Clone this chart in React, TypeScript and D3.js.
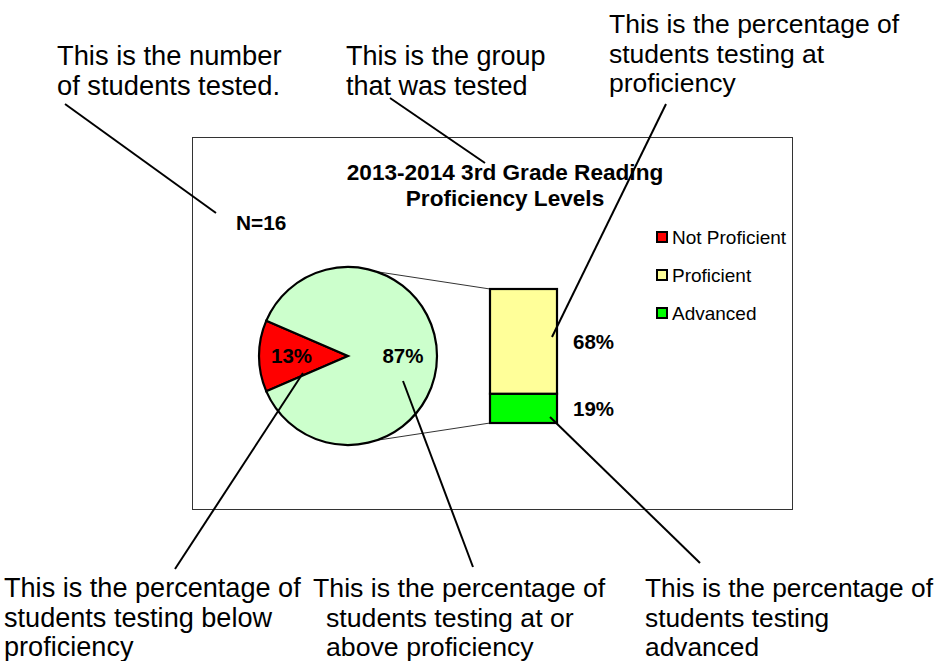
import React from "react";
import * as d3 from "d3";

// chart values (percent of students tested)
const pieLabels = ["Not Proficient", "Proficient or Advanced"];
const pieValues = [13, 87];
const barLabels = ["Advanced", "Proficient"]; // bottom to top
const barValues = [19, 68];
const legendLabels = ["Not Proficient", "Proficient", "Advanced"];
const legendColors = ["#FF0000", "#FFFF99", "#00FF00"];
const pieColors = ["#FF0000", "#CCFFCC"];
const barColors = ["#00FF00", "#FFFF99"];
const title = ["2013-2014 3rd Grade Reading", "Proficiency Levels"];
const nLabel = "N=16";

// callouts drawn around the chart
const notes = [
  { x: 57, y: 65, size: 27.3, lines: ["This is the number", "of students tested."], from: [65, 104], to: [216, 213] },
  { x: 346, y: 65, size: 27, lines: ["This is the group", "that was tested"], from: [390, 98], to: [485, 163] },
  { x: 609, y: 33, size: 26.5, lines: ["This is the percentage of", "students testing at", "proficiency"], from: [666, 104], to: [552, 337] },
  { x: 4, y: 597, size: 27.1, lines: ["This is the percentage of", "students testing below", "proficiency"], from: [303, 373], to: [175, 569] },
  { x: 313, y: 597, size: 26.7, lines: ["This is the percentage of", "students testing at or", "above proficiency"], indent: 13, from: [403, 381], to: [473, 567] },
  { x: 645, y: 597, size: 26.3, lines: ["This is the percentage of", "students testing", "advanced"], from: [550, 417], to: [700, 563] },
];

const W = 943;
const H = 661;
const font = "'Liberation Sans', Arial, Helvetica, sans-serif";

export default function App() {
  const cx = 348;
  const cy = 356;
  const r = 89;

  const redAngle = (pieValues[0] / d3.sum(pieValues)) * 2 * Math.PI;
  const start = -Math.PI / 2 - redAngle / 2;
  const arcs = d3
    .pie<number>()
    .sort(null)
    .startAngle(start)
    .endAngle(start + 2 * Math.PI)(pieValues);
  const arc = d3.arc<d3.PieArcDatum<number>>().innerRadius(0).outerRadius(r);

  // bar of pie
  const barX = d3.scaleBand().domain(["bar"]).range([490, 557]).padding(0);
  const barY = d3.scaleLinear().domain([0, d3.sum(barValues)]).range([423, 289]);
  let acc = 0;
  const segs = barValues.map((v, i) => {
    const s = { y0: acc, y1: acc + v, v, i };
    acc += v;
    return s;
  });

  // connector points on the circle
  const ca = (71.4 * Math.PI) / 180;
  const p1 = [cx + r * Math.cos(ca), cy - r * Math.sin(ca)];
  const p2 = [cx + r * Math.cos(ca), cy + r * Math.sin(ca)];

  const redLabel = arc.centroid(arcs[0]);

  return (
    <svg width={W} height={H} style={{ position: "absolute", left: 0, top: 0, background: "#fff" }} fontFamily={font}>
      <rect x={0} y={0} width={W} height={H} fill="#fff" />
      {/* chart frame */}
      <rect x={192.5} y={137.5} width={600} height={372} fill="#fff" stroke="#333" strokeWidth={1} />

      {title.map((t, i) => (
        <text key={t} x={505} y={180 + i * 26} textAnchor="middle" fontWeight="bold" fontSize={22.6}>
          {t}
        </text>
      ))}
      <text x={236} y={230} fontWeight="bold" fontSize={20.8}>
        {nLabel}
      </text>

      {/* connectors */}
      <line x1={p1[0]} y1={p1[1]} x2={barX("bar")!} y2={barY(d3.sum(barValues))} stroke="#333" strokeWidth={1} />
      <line x1={p2[0]} y1={p2[1]} x2={barX("bar")!} y2={barY(0)} stroke="#333" strokeWidth={1} />

      {/* pie */}
      <g transform={`translate(${cx},${cy})`}>
        {arcs.map((a, i) => (
          <path key={pieLabels[i]} d={arc(a)!} fill={pieColors[i]} stroke="#000" strokeWidth={2.2} strokeLinejoin="miter" />
        ))}
        <text x={redLabel[0] - 12} y={7} textAnchor="middle" fontWeight="bold" fontSize={20.5}>
          {pieValues[0]}%
        </text>
        <text x={55} y={7} textAnchor="middle" fontWeight="bold" fontSize={20.5}>
          {pieValues[1]}%
        </text>
      </g>

      {/* stacked bar */}
      {segs.map((s) => (
        <g key={barLabels[s.i]}>
          <rect
            x={barX("bar")!}
            y={barY(s.y1)}
            width={barX.bandwidth()}
            height={barY(s.y0) - barY(s.y1)}
            fill={barColors[s.i]}
            stroke="#000"
            strokeWidth={2.2}
          />
          <text x={573} y={(barY(s.y0) + barY(s.y1)) / 2 + 8} fontWeight="bold" fontSize={20.5}>
            {s.v}%
          </text>
        </g>
      ))}

      {/* legend */}
      {legendLabels.map((l, i) => (
        <g key={l} transform={`translate(657,${237 + i * 38})`}>
          <rect x={0} y={-5} width={10} height={10} fill={legendColors[i]} stroke="#000" strokeWidth={2} />
          <text x={15} y={7} fontSize={19}>
            {l}
          </text>
        </g>
      ))}

      {/* callouts */}
      {notes.map((n, k) => (
        <g key={k}>
          <line x1={n.from[0]} y1={n.from[1]} x2={n.to[0]} y2={n.to[1]} stroke="#000" strokeWidth={2} />
          <text fontSize={n.size} fill="#000">
            {n.lines.map((ln, j) => (
              <tspan key={j} x={n.x + (j > 0 && n.indent ? n.indent : 0)} y={n.y + j * 29.5}>
                {ln}
              </tspan>
            ))}
          </text>
        </g>
      ))}
    </svg>
  );
}
